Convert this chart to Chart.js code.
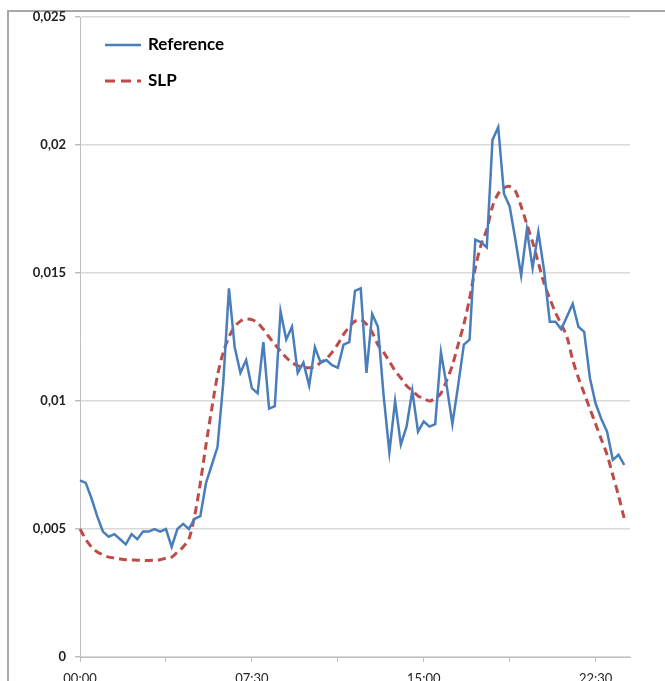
<!DOCTYPE html>
<html>
<head>
<meta charset="utf-8">
<script src="https://cdn.jsdelivr.net/npm/chart.js@4"></script>
<style>
    body { margin: 0; background: #fff; }
    #wrap { position: relative; width: 665px; height: 681px; overflow: hidden; }
    #frame { position: absolute; left: 7px; top: 10px; width: 700px; height: 700px; border: 2px solid #a8a8a8; }
    #chart { position: absolute; left: 0; top: 0; }
</style>
</head>
<body>
<div id="wrap">
    <div id="frame"></div>
    <canvas id="chart" width="665" height="681"></canvas>
</div>
<script>
// quarter-hour load profile, 00:00 .. 23:45 (axis runs to 24:00)
const timeLabels = [];
for (let q = 0; q <= 96; q++) {
    const h = String(Math.floor(q / 4)).padStart(2, "0");
    const m = String((q % 4) * 15).padStart(2, "0");
    timeLabels.push(h + ":" + m);
}

const referenceLoad = [
    0.0069, 0.0068, 0.0062, 0.0055, 0.0049, 0.0047, 0.0048, 0.0046, 0.0044, 0.0048,
    0.0046, 0.0049, 0.0049, 0.0050, 0.0049, 0.0050, 0.0043, 0.0050, 0.0052, 0.0050,
    0.0054, 0.0055, 0.0068, 0.0075, 0.0082, 0.0107, 0.0144, 0.0121, 0.0111, 0.0116,
    0.0105, 0.0103, 0.0123, 0.0097, 0.0098, 0.0135, 0.0124, 0.0129, 0.0111, 0.0115,
    0.0106, 0.0121, 0.0115, 0.0116, 0.0114, 0.0113, 0.0122, 0.0123, 0.0143, 0.0144,
    0.0111, 0.0134, 0.0129, 0.0102, 0.0080, 0.0100, 0.0083, 0.0090, 0.0104, 0.0088,
    0.0092, 0.0090, 0.0091, 0.0119, 0.0106, 0.0091, 0.0106, 0.0122, 0.0124, 0.0163,
    0.0162, 0.0160, 0.0202, 0.0207, 0.0181, 0.0176, 0.0163, 0.0149, 0.0167, 0.0152,
    0.0166, 0.0151, 0.0131, 0.0131, 0.0128, 0.0133, 0.0138, 0.0129, 0.0127, 0.0109,
    0.0099, 0.0093, 0.0088, 0.0077, 0.0079, 0.0075
];

const slpLoad = [
    0.0050, 0.0046, 0.0043, 0.0041, 0.0040, 0.0039, 0.00387, 0.00383, 0.0038, 0.00379,
    0.00378, 0.00377, 0.00377, 0.00378, 0.0038, 0.00386, 0.0039, 0.0041, 0.0043, 0.0046,
    0.0055, 0.0068, 0.0083, 0.0097, 0.0110, 0.0119, 0.0125, 0.0129, 0.01312, 0.0132,
    0.01318, 0.01305, 0.0128, 0.0125, 0.01222, 0.01195, 0.0117, 0.0115, 0.01138, 0.01132,
    0.0113, 0.01133, 0.0115, 0.01165, 0.0119, 0.01222, 0.0126, 0.0129, 0.01312, 0.01318,
    0.0130, 0.01268, 0.0122, 0.0119, 0.01155, 0.01118, 0.0109, 0.0106, 0.0104, 0.0102,
    0.0101, 0.0100, 0.0101, 0.0103, 0.0108, 0.0114, 0.0122, 0.0130, 0.0140, 0.0152,
    0.0161, 0.0167, 0.0176, 0.0181, 0.01832, 0.01838, 0.0182, 0.0176, 0.0169, 0.0162,
    0.0154, 0.0146, 0.0140, 0.01345, 0.0130, 0.0125, 0.0116, 0.0109, 0.0103, 0.0097,
    0.0091, 0.0085, 0.0079, 0.0071, 0.0063, 0.0054
];

const seriesNames = ["Reference", "SLP"];
const blue = "#4a7ebb";
const red = "#be4b48";

// legend drawn in the top left corner of the plot, like the original
const innerLegend = {
    id: "innerLegend",
    afterDraw(chart) {
        const ctx = chart.ctx;
        const rows = [
            { y: 45, color: blue, dash: [] },
            { y: 81, color: red, dash: [10, 6] }
        ];
        ctx.save();
        rows.forEach((row, i) => {
            ctx.beginPath();
            ctx.setLineDash(row.dash);
            ctx.strokeStyle = row.color;
            ctx.lineWidth = row.dash.length ? 3 : 2.5;
            ctx.moveTo(105, row.y);
            ctx.lineTo(141, row.y);
            ctx.stroke();
            ctx.setLineDash([]);
            ctx.fillStyle = "#000";
            ctx.font = "bold 17px Lato";
            ctx.textBaseline = "middle";
            ctx.fillText(seriesNames[i], 148, row.y);
        });
        ctx.restore();
    }
};

new Chart(document.getElementById("chart"), {
    type: "line",
    data: {
        labels: timeLabels,
        datasets: [
            {
                label: seriesNames[0],
                data: referenceLoad,
                borderColor: blue,
                borderWidth: 2.5,
                pointRadius: 0,
                tension: 0
            },
            {
                label: seriesNames[1],
                data: slpLoad,
                borderColor: red,
                borderWidth: 3,
                borderDash: [8, 5],
                pointRadius: 0,
                tension: 0.3
            }
        ]
    },
    options: {
        responsive: false,
        animation: false,
        layout: { padding: { top: 17, right: 35, left: 0, bottom: 0 } },
        plugins: {
            legend: { display: false },
            tooltip: { enabled: false }
        },
        scales: {
            x: {
                offset: false,
                afterFit: scale => { scale.height = 24; },
                border: { color: "#bfbfbf", width: 1 },
                grid: {
                    drawOnChartArea: false,
                    tickLength: 5,
                    color: c => (c.index % 15 === 0 ? "#bfbfbf" : "rgba(0,0,0,0)")
                },
                ticks: {
                    autoSkip: false,
                    maxRotation: 0,
                    padding: 9,
                    color: "#222",
                    font: { family: "Lato", size: 13 },
                    callback: function(value, index) {
                        return index % 30 === 0 ? this.getLabelForValue(value) : "";
                    }
                }
            },
            y: {
                min: 0,
                max: 0.025,
                afterFit: scale => { scale.width = 80; },
                border: { color: "#bfbfbf", width: 1 },
                grid: {
                    color: "#d9d9d9",
                    lineWidth: 1.5,
                    tickLength: 5,
                    tickColor: "#bfbfbf"
                },
                ticks: {
                    stepSize: 0.005,
                    padding: 9,
                    color: "#222",
                    font: { family: "Lato", size: 13, weight: "bold" },
                    callback: value => String(Math.round(value * 1000) / 1000).replace(".", ",")
                }
            }
        }
    },
    plugins: [innerLegend]
});
</script>
</body>
</html>
